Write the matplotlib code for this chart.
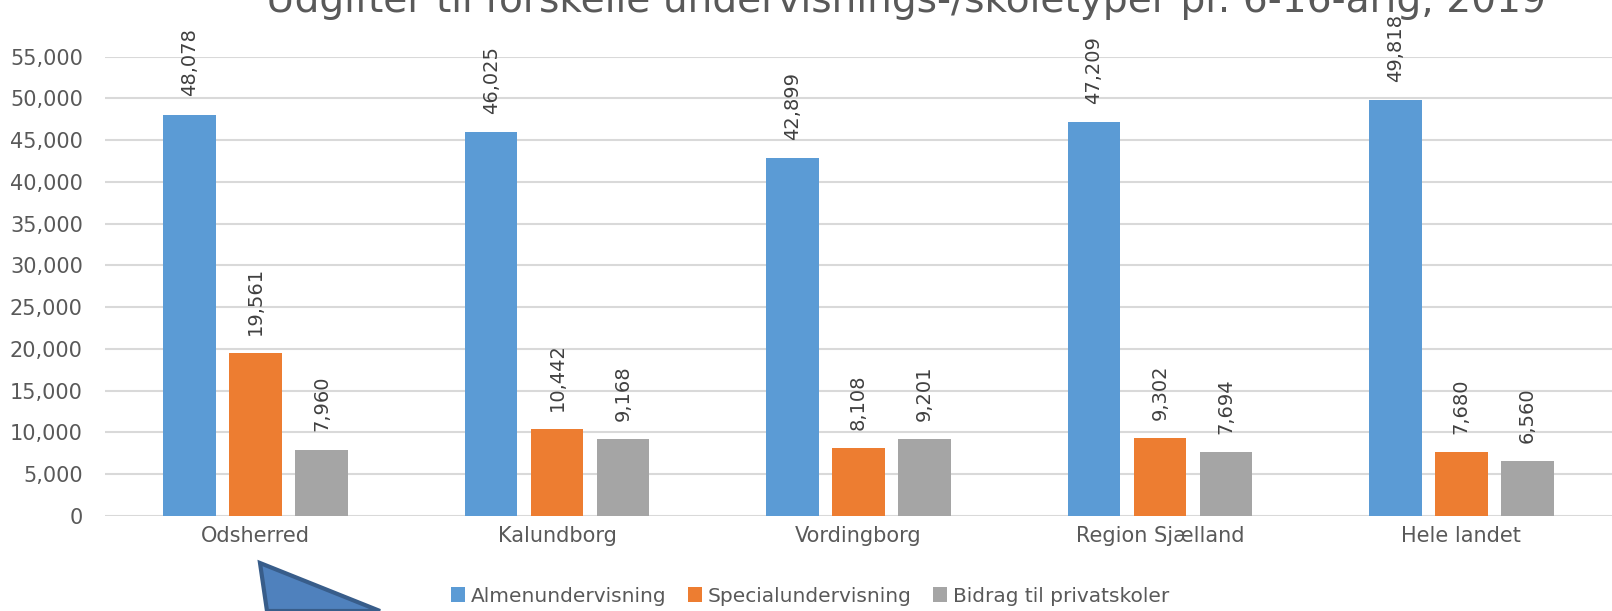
import matplotlib
matplotlib.use("Agg")
import matplotlib.pyplot as plt
from matplotlib.patches import Polygon
import numpy as np

title = "Udgifter til forskelle undervisnings-/skoletyper pr. 6-16-årig, 2019"
categories = ["Odsherred", "Kalundborg", "Vordingborg", "Region Sjælland", "Hele landet"]
series_names = ["Almenundervisning", "Specialundervisning", "Bidrag til privatskoler"]
almen = [48078, 46025, 42899, 47209, 49818]
special = [19561, 10442, 8108, 9302, 7680]
privat = [7960, 9168, 9201, 7694, 6560]
colors = ["#5B9BD5", "#ED7D31", "#A5A5A5"]
yticks = list(range(0, 55001, 5000))

W, H = 1612, 611
fig = plt.figure(figsize=(W / 100, H / 100), dpi=100)
ax = fig.add_axes([105 / W, 1 - 516 / H, 1 - 105 / W, (516 - 56.7) / H])

x = np.arange(len(categories))
bw = 0.174
step = 0.219
txtc = "#404040"
for i, (vals, name, c) in enumerate(zip([almen, special, privat], series_names, colors)):
    pos = x + (i - 1) * step
    bars = ax.bar(pos, vals, width=bw, color=c, label=name, zorder=3)
    for b, v in zip(bars, vals):
        ax.annotate(f"{v:,}", (b.get_x() + b.get_width() / 2, v), xytext=(0, 13),
                    textcoords="offset points", rotation=90, ha="center", va="bottom",
                    fontsize=14, color=txtc, family="DejaVu Sans", clip_on=False,
                    annotation_clip=False)

ax.set_xlim(-0.5, len(categories) - 0.5)
ax.set_ylim(0, 55000)
ax.set_yticks(yticks)
ax.set_yticklabels([f"{t:,}" for t in yticks], fontsize=15, color="#595959")
ax.set_xticks(x)
ax.set_xticklabels(categories, fontsize=15, color="#595959")
ax.tick_params(axis="both", length=0)
ax.tick_params(axis="y", pad=16)
ax.tick_params(axis="x", pad=7)
ax.grid(axis="y", color="#D9D9D9", linewidth=1.5, zorder=0)
for s in ax.spines.values():
    s.set_visible(False)

t = fig.text(906 / W, 1 - 12 / H, title, ha="center", va="baseline", fontsize=26,
             color="#595959", family="DejaVu Sans")
fig.canvas.draw()
wpx = t.get_window_extent().width
t.set_fontsize(26 * 1282 / wpx)

leg = fig.legend(loc="center", bbox_to_anchor=(810 / W, 1 - 596 / H), ncol=3, frameon=False,
                 prop={"family": "DejaVu Sans", "size": 14.5}, handlelength=0.7,
                 handleheight=0.7, handletextpad=0.3, columnspacing=1.05,
                 borderpad=0, borderaxespad=0)
for tx in leg.get_texts():
    tx.set_color("#595959")

# callout arrow decoration
poly = Polygon([(260, H - 563), (267, 0), (380, 0)], closed=True, transform=None,
               facecolor="#4F81BD", edgecolor="#385D8A", linewidth=3, zorder=10)
fig.patches.append(poly)

fig.savefig("out.png", dpi=100)
